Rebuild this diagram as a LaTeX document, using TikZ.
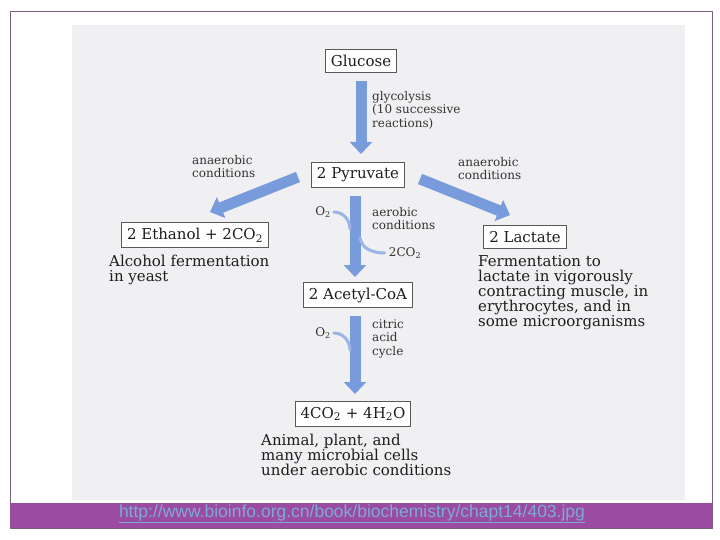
\documentclass[tikz,border=0pt]{standalone}
\usepackage{fontspec}
\setmainfont{DejaVu Serif}
\newfontfamily\urlfont{Liberation Sans}
\usetikzlibrary{arrows.meta}
\definecolor{framec}{RGB}{120,95,125}
\definecolor{barc}{RGB}{155,75,160}
\definecolor{urlc}{RGB}{125,170,215}
\definecolor{arrc}{RGB}{120,155,220}
\definecolor{paper}{RGB}{240,240,243}
\definecolor{txt}{RGB}{30,30,30}
\tikzset{
  box/.style={draw=black!65, line width=0.9pt, fill=white, inner xsep=5.5pt, inner ysep=5.5pt, font=\fontsize{15}{17}\selectfont, text=txt},
  desc/.style={align=left, font=\fontsize{15}{15}\selectfont, text=txt, inner sep=0pt, anchor=north west},
  lab/.style={align=left, font=\fontsize{12}{13.5}\selectfont, text=black!80, inner sep=0pt},
  bigarrow/.style={line width=11pt, draw=arrc, -{Triangle[width=22pt,length=12pt]}},
  twig/.style={line width=3pt, draw=arrc!75, line cap=round}
}
\begin{document}
\begin{tikzpicture}[x=1pt,y=-1pt]
\useasboundingbox (0,0) rectangle (720,540);
\fill[white] (0,0) rectangle (720,540);
% paper
\fill[paper] (72,25) rectangle (685,500);
% frame
\draw[framec, line width=1pt] (10,12) rectangle (712,528);
\fill[barc] (10,503) rectangle (712,528);
\node[text=urlc, font=\urlfont\fontsize{17.5}{19}\selectfont, inner sep=0pt] (url) at (352,514) {\underline{http://www.bioinfo.org.cn/book/biochemistry/chapt14/403.jpg}};

% boxes
\node[box] (glu) at (361,61) {Glucose};
\node[box] (pyr) at (358,175) {2 Pyruvate};
\node[box] (eth) at (195,235) {2 Ethanol + 2CO\textsubscript{2}};
\node[box] (lac) at (525,237) {2 Lactate};
\node[box] (acc) at (358,295) {2 Acetyl-CoA};
\node[box] (co2) at (353,414) {4CO\textsubscript{2} + 4H\textsubscript{2}O};

% descriptions
\node[desc] (d1) at (109,255) {Alcohol fermentation\\in yeast};
\node[desc] (d2) at (478,255) {Fermentation to\\lactate in vigorously\\contracting muscle, in\\erythrocytes, and in\\some microorganisms};
\node[desc] (d3) at (261,434) {Animal, plant, and\\many microbial cells\\under aerobic conditions};

% labels
\node[lab, anchor=north west] (gly) at (372,91) {glycolysis\\(10 successive\\reactions)};
\node[lab, anchor=north west] (an1) at (192,155) {anaerobic\\conditions};
\node[lab, anchor=north west] (an2) at (458,157) {anaerobic\\conditions};
\node[lab, anchor=north west] (aer) at (372,207) {aerobic\\conditions};
\node[lab, anchor=north west] (cac) at (372,319) {citric\\acid\\cycle};
\node[lab] (o2a) at (323,212) {O\textsubscript{2}};
\node[lab] (o2b) at (323,333) {O\textsubscript{2}};
\node[lab] (co2a) at (405,253) {2CO\textsubscript{2}};

% big arrows
\coordinate (g1) at (361,81);
\coordinate (g2) at (361,154);
\draw[bigarrow] (glu.south |- g1) -- (glu.south |- g2);
\coordinate (l1) at (298,177);
\coordinate (l2) at (210,212);
\draw[bigarrow] (l1) -- (l2);
\coordinate (r1) at (420,179);
\coordinate (r2) at (510,215);
\draw[bigarrow] (r1) -- (r2);
\coordinate (p1) at (355,196);
\coordinate (p2) at (355,277);
\draw[bigarrow] (p1) -- (p2);
\coordinate (a1) at (355,316);
\coordinate (a2) at (355,394);
\draw[bigarrow] (a1) -- (a2);

% twigs
\coordinate (t1) at (350,229);
\draw[twig] (o2a.east) ++(3,0) to[out=0,in=90] (t1);
\coordinate (t2) at (360,238);
\draw[twig] (t2) to[out=-80,in=180] ([xshift=-4pt]co2a.west);
\coordinate (t3) at (350,350);
\draw[twig] (o2b.east) ++(3,0) to[out=0,in=90] (t3);
\end{tikzpicture}
\end{document}
